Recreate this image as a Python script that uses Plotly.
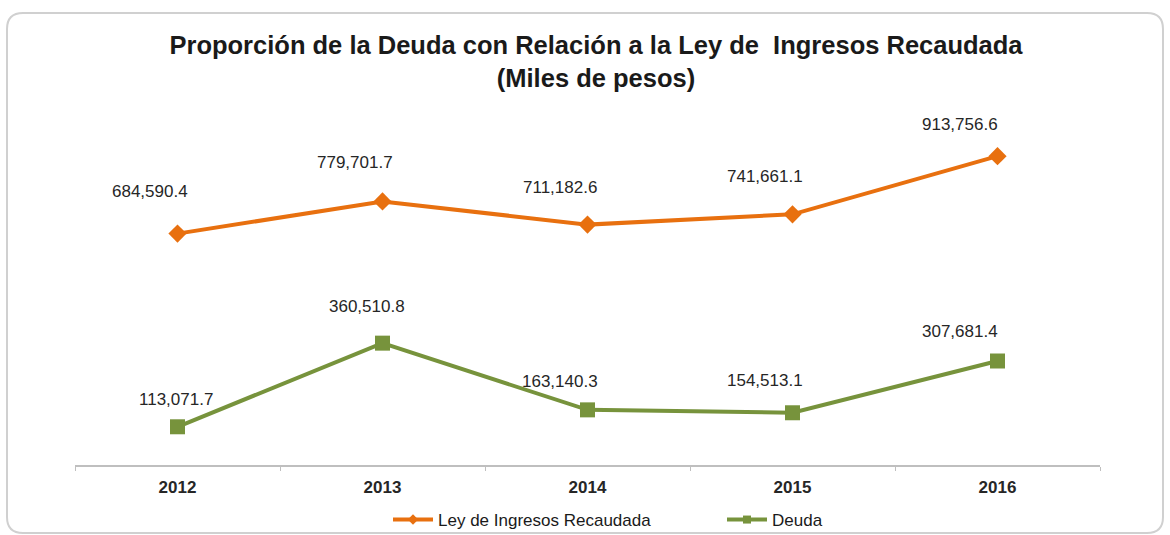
import plotly.graph_objects as go

# Datos (miles de pesos)
anios = ["2012", "2013", "2014", "2015", "2016"]
ley_ingresos = [684590.4, 779701.7, 711182.6, 741661.1, 913756.6]
deuda = [113071.7, 360510.8, 163140.3, 154513.1, 307681.4]

# Desplazamientos de las etiquetas de valor (px)
ley_shift_x = [-28, -28, -28, -28, -38]
ley_shift_y = [42, 39, 37, 38, 32]
deuda_shift_x = [-2, -16, -28, -28, -38]
deuda_shift_y = [27, 37, 28, 32, 30]

W, H = 1170, 535
ML, MR, MT, MB = 75, 70, 127, 70
NARANJA = "#E8700F"
VERDE = "#77933C"
FUENTE = "Liberation Sans, Arial, sans-serif"


def fmt(v):
    return f"{v:,.1f}"


def px_x(p):
    return (p - ML) / (W - ML - MR)


def px_y(p):
    return 1 - (p - MT) / (H - MT - MB)


fig = go.Figure()
series = [
    ("Ley de Ingresos Recaudada", ley_ingresos, NARANJA, "diamond", 14),
    ("Deuda", deuda, VERDE, "square", 15),
]
for nombre, valores, color, simbolo, tam in series:
    fig.add_trace(go.Scatter(
        x=anios, y=valores, name=nombre, mode="lines+markers",
        line=dict(color=color, width=4),
        marker=dict(symbol=simbolo, size=tam, color=color),
        legendgroup=nombre, showlegend=False,
    ))
# Entradas de leyenda con marcadores pequeños
for nombre, valores, color, simbolo, tam in series:
    fig.add_trace(go.Scatter(
        x=[None], y=[None], name=nombre, mode="lines+markers",
        line=dict(color=color, width=4),
        marker=dict(symbol=simbolo, size=8, color=color),
        legendgroup=nombre, showlegend=True,
    ))

# Etiquetas de valor sobre cada punto (x por índice de categoría)
for serie, sx, sy in ((ley_ingresos, ley_shift_x, ley_shift_y),
                      (deuda, deuda_shift_x, deuda_shift_y)):
    for i, (v, dx, dy) in enumerate(zip(serie, sx, sy)):
        fig.add_annotation(
            x=i, y=v, xref="x", yref="y", text=fmt(v), showarrow=False,
            xshift=dx, yshift=dy,
            font=dict(family=FUENTE, size=17, color="#262626"),
        )

# Marco redondeado del gráfico
x0, x1 = px_x(7), px_x(1163)
y0, y1 = px_y(13), px_y(533)
r_x = 16 / (W - ML - MR)
r_y = 16 / (H - MT - MB)
marco = (
    f"M {x0 + r_x} {y0} L {x1 - r_x} {y0} Q {x1} {y0} {x1} {y0 - r_y} "
    f"L {x1} {y1 + r_y} Q {x1} {y1} {x1 - r_x} {y1} "
    f"L {x0 + r_x} {y1} Q {x0} {y1} {x0} {y1 + r_y} "
    f"L {x0} {y0 - r_y} Q {x0} {y0} {x0 + r_x} {y0} Z"
)
fig.add_shape(type="path", path=marco, xref="paper", yref="paper",
              line=dict(color="#D0D0D0", width=2), layer="below")

fig.update_layout(
    width=W, height=H,
    margin=dict(l=ML, r=MR, t=MT, b=MB, autoexpand=False),
    paper_bgcolor="white", plot_bgcolor="white",
    title=dict(
        text="<b>Proporción de la Deuda con Relación a la Ley de  Ingresos Recaudada<br>(Miles de pesos)</b>",
        x=596 / W, xanchor="center", y=1 - 54 / H, yanchor="top",
        font=dict(family=FUENTE, size=25.5, color="#1a1a1a"),
    ),
    xaxis=dict(
        type="category", range=[-0.5, 4.5],
        showline=True, linecolor="#BFBFBF", linewidth=1.5,
        ticks="outside", tickson="boundaries", ticklen=4, tickcolor="#BFBFBF",
        ticklabelstandoff=6,
        showgrid=False, zeroline=False,
        tickfont=dict(family=FUENTE, size=17, color="#262626", weight="bold"),
    ),
    yaxis=dict(
        range=[0, 1000000], showticklabels=False, showgrid=False,
        zeroline=False, showline=False, ticks="",
    ),
    showlegend=True,
    legend=dict(
        orientation="h", x=px_x(388), xanchor="left",
        y=px_y(520), yanchor="middle", bgcolor="rgba(0,0,0,0)",
        font=dict(family=FUENTE, size=17, color="#1a1a1a"),
        itemwidth=40, tracegroupgap=0,
        entrywidth=279, entrywidthmode="pixels",
    ),
)

fig.write_html("out.html")
